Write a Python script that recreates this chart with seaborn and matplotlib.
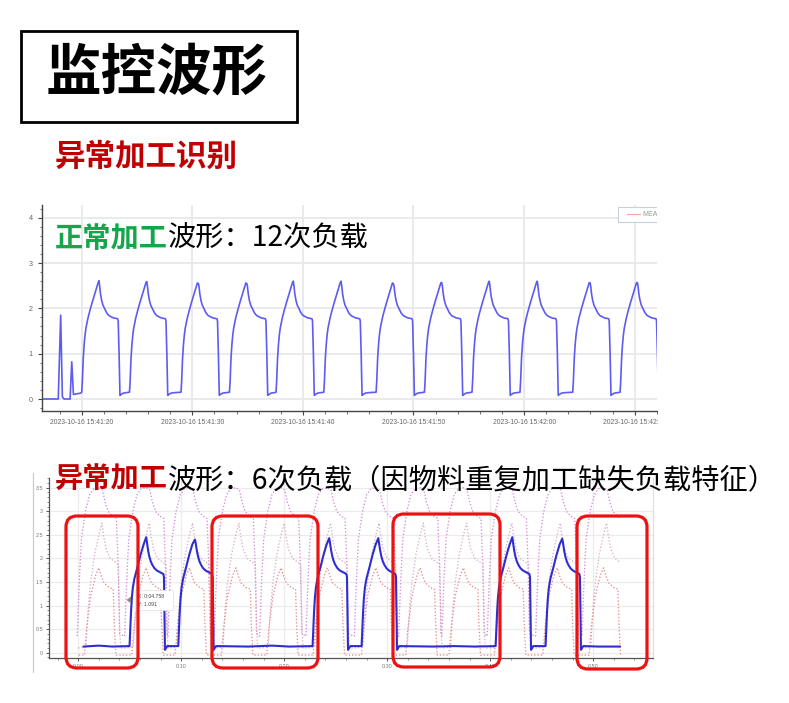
import numpy as np
import pandas as pd
import matplotlib
matplotlib.use("Agg")
import matplotlib.pyplot as plt
import seaborn as sns
from matplotlib.patches import FancyBboxPatch, Rectangle, Polygon
from matplotlib.lines import Line2D
from matplotlib.ticker import MultipleLocator, FixedLocator

# ---------------- texts ----------------
title_text = "监控波形"
subtitle_text = "异常加工识别"
normal_label = ["正常加工", "波形：12次负载"]
abnormal_label = ["异常加工", "波形：6次负载（因物料重复加工缺失负载特征）"]

# ---------------- top chart (normal machining) ----------------
# x = seconds after 2023-10-16 15:41:20
top_tick_pos = [0, 10, 20, 30, 40, 50]
top_tick_labels = ["2023-10-16 15:41:20", "2023-10-16 15:41:30", "2023-10-16 15:41:40",
                   "2023-10-16 15:41:50", "2023-10-16 15:42:00", "2023-10-16 15:42:10"]
top_y_ticks = [0, 1, 2, 3, 4]
top_lead_t = [-3.6, -2.12, -1.9, -1.75, -1.6, -1.05, -0.9, -0.75, -0.35, -0.1]
top_lead_v = [0.0, 0.0, 1.85, 0.05, 0.0, 0.0, 0.82, 0.1, 0.12, 0.13]
top_cycle_dt = [-1.56, -1.5, -1.42, -1.34, -1.26, -1.18, -1.0, -0.81, -0.6, -0.4, -0.21,
                -0.08, 0.0, 0.06, 0.14, 0.24, 0.36, 0.54, 0.7, 0.9, 1.3, 1.69, 1.74,
                1.82, 1.9, 2.0, 2.2, 2.5]
top_cycle_v = [0.15, 0.4, 0.9, 1.2, 1.41, 1.56, 1.78, 1.96, 2.14, 2.3, 2.46,
               2.56, None, 2.5, 2.32, 2.18, 2.07, 1.98, 1.9, 1.84, 1.79, 1.77, 1.72,
               1.0, 0.08, 0.1, 0.13, 0.14]
top_peak_t = [1.56, 5.88, 10.54, 14.92, 19.13, 23.45, 28.18, 32.55, 36.85, 41.19, 45.96, 50.24]
top_peak_v = [2.61, 2.59, 2.55, 2.55, 2.6, 2.6, 2.54, 2.57, 2.6, 2.6, 2.57, 2.57]

# ---------------- bottom chart (abnormal machining) ----------------
bot_tick_pos = [0, 10, 20, 30, 40, 50]
bot_tick_labels = ["0:00", "0:10", "0:20", "0:30", "0:40", "0:50"]
bot_y_ticks = [0, 0.5, 1, 1.5, 2, 2.5, 3, 3.5]
bot_y_labels = ["0", "0.5", "1", "1.5", "2", "2.5", "3", "3.5"]

blue_cycle_dt = [-1.62, -1.55, -1.48, -1.4, -1.3, -1.15, -0.85, -0.55, -0.25, 0.0, 0.08,
                 0.18, 0.3, 0.45, 0.6, 0.8, 1.05, 1.4, 1.66, 1.72, 1.82, 1.92, 2.05]
blue_cycle_v = [0.14, 0.5, 0.85, 1.15, 1.38, 1.57, 1.82, 2.08, 2.3, None, 2.32,
                2.17, 2.04, 1.93, 1.86, 1.79, 1.74, 1.7, 1.67, 1.6, 0.06, 0.1, 0.14]
blue_peak_t = [6.6, 11.33, 24.37, 29.13, 42.14, 46.99]
blue_peak_v = [2.45, 2.40, 2.43, 2.43, 2.45, 2.42]
blue_idle_t = [0.5, 2.0, 3.3, 16.5, 18.8, 20.5, 34.5, 36.5, 38.5, 50.5, 52.6]
blue_idle_v = [0.13, 0.15, 0.13, 0.13, 0.15, 0.13, 0.13, 0.14, 0.13, 0.13, 0.13]

# reference envelopes (dotted): upper / mean / lower
pink_center_t = [2.0, 6.6, 10.8, 15.3, 19.7, 24.2, 28.9, 33.2, 37.4, 41.8, 46.5, 51.0]
upper_dt = [-2.1, -1.9, -1.7, -1.3, -0.9, -0.5, 0.0, 0.35, 0.6, 0.9, 1.3, 1.7, 1.85, 2.02]
upper_v = [0.35, 1.5, 2.4, 3.0, 3.35, 3.48, 3.5, 3.45, 3.2, 3.0, 2.9, 2.85, 2.0, 0.4]
mean_dt = [-2.0, -1.25, -1.05, -0.8, -0.4, 0.0, 0.3, 0.45, 0.7, 1.1, 1.6, 1.9, 2.02, 2.12]
mean_v = [0.1, 0.12, 0.9, 1.5, 2.1, 2.5, 2.75, 2.5, 2.2, 2.0, 1.92, 1.88, 0.5, 0.1]
lower_dt = [-1.95, -1.4, -1.2, -0.8, -0.3, 0.0, 0.2, 0.5, 1.0, 1.4, 1.5, 1.65]
lower_v = [-0.05, -0.05, 0.5, 1.2, 1.65, 1.8, 1.65, 1.48, 1.38, 1.35, 0.6, -0.05]

# red annotation boxes (pixel boxes: left, top, right, bottom)
red_boxes = [(66, 516, 138, 668), (212, 516, 318, 668), (393, 514, 500, 667), (577, 516, 647, 669)]


def build(peaks, peak_vals, dts, vals):
    ts, vs = [], []
    for p, pv in zip(peaks, peak_vals):
        for d, v in zip(dts, vals):
            ts.append(p + d)
            vs.append(pv if v is None else v)
    return ts, vs


# ---------------- figure ----------------
sns.set_theme(style="white")
plt.rcParams['font.family'] = ['Noto Sans CJK SC', 'DejaVu Sans']
plt.rcParams['axes.unicode_minus'] = False

W, H = 789, 703
fig = plt.figure(figsize=(W / 100, H / 100), dpi=100)
fig.patch.set_facecolor("white")
tr = fig.dpi_scale_trans


def P(x, y):
    return (x / 100.0, (H - y) / 100.0)


def fx(x):
    return x / W


def fy(y):
    return 1 - y / H


TICKFONT = "Liberation Sans"

# ---------- top axes ----------
ax1 = fig.add_axes([fx(42), fy(410.7), (657 - 42) / W, (410.7 - 205) / H])
t1, v1 = build(top_peak_t, top_peak_v, top_cycle_dt, top_cycle_v)
df_top = pd.DataFrame({"t": top_lead_t + t1, "v": top_lead_v + v1}).sort_values("t")
sns.lineplot(data=df_top, x="t", y="v", ax=ax1, sort=False, estimator=None,
             color="#5c5cf2", lw=1.2)
ax1.set_xlim(-3.59, 52.02)
ax1.set_ylim(-0.258, 4.28)
ax1.xaxis.set_major_locator(FixedLocator(top_tick_pos))
ax1.set_xticklabels(top_tick_labels)
ax1.xaxis.set_minor_locator(MultipleLocator(2))
ax1.yaxis.set_major_locator(FixedLocator(top_y_ticks))
ax1.set_yticklabels([str(v) for v in top_y_ticks])
ax1.yaxis.set_minor_locator(MultipleLocator(0.2))
ax1.set_xlabel("")
ax1.set_ylabel("")
ax1.grid(True, which="major", color="#e8e8ec", lw=1.3)
ax1.set_axisbelow(True)
for s in ["top", "right"]:
    ax1.spines[s].set_visible(False)
for s in ["left", "bottom"]:
    ax1.spines[s].set_color("#444444")
    ax1.spines[s].set_linewidth(1.0)
ax1.tick_params(axis="both", which="major", direction="out", length=3.2, width=0.8,
                color="#444444", labelcolor="#666666", labelsize=4.9, pad=3.0,
                bottom=True, left=True)
ax1.tick_params(axis="both", which="minor", direction="out", length=1.8, width=0.6,
                color="#555555", bottom=True, left=True)
ax1.tick_params(axis="y", which="major", labelsize=5.2, pad=3.5)
for lab in ax1.get_xticklabels() + ax1.get_yticklabels():
    lab.set_fontfamily(TICKFONT)

# little legend box at top right (cut off by the screenshot edge)
ax1.add_patch(Rectangle(P(618, 222), 50 / 100, 15 / 100, transform=tr,
                        facecolor="white", edgecolor="#c8d0e0", lw=0.8, zorder=5))
ax1.add_line(Line2D([6.27, 6.40], [(H - 214) / 100] * 2, transform=tr,
                    color="#f4a8a8", lw=0.9, zorder=6))
ax1.text(6.42, (H - 214) / 100, "MEA", transform=tr, fontsize=5, color="#999999",
         va="center", ha="left", fontfamily=TICKFONT, zorder=6, clip_on=True)

# the upper screenshot is cut at its right edge
fig.add_artist(Rectangle(P(657.5, 440), (W - 657.5) / 100, (440 - 195) / 100, transform=tr,
                         facecolor="white", edgecolor="none", zorder=20))

# ---------- bottom axes ----------
ax2 = fig.add_axes([fx(49), fy(657.5), (653 - 49) / W, (657.5 - 478) / H])
tu, vu = build(pink_center_t, [0] * len(pink_center_t), upper_dt, upper_v)
tm, vm = build(pink_center_t, [0] * len(pink_center_t), mean_dt, mean_v)
tl, vl = build(pink_center_t, [0] * len(pink_center_t), lower_dt, lower_v)
for ts, vs, col in [(tu, vu, "#d888d8"), (tm, vm, "#d6b0c6"), (tl, vl, "#e88c8c")]:
    d = pd.DataFrame({"t": ts, "v": vs}).sort_values("t")
    d = d[(d.t >= -0.3) & (d.t <= 52.8)]
    sns.lineplot(data=d, x="t", y="v", ax=ax2, sort=False, estimator=None,
                 color=col, lw=0.95, linestyle=(0, (1, 1.5)))
tb, vb = build(blue_peak_t, blue_peak_v, blue_cycle_dt, blue_cycle_v)
df_blue = pd.DataFrame({"t": blue_idle_t + tb, "v": blue_idle_v + vb}).sort_values("t")
sns.lineplot(data=df_blue, x="t", y="v", ax=ax2, sort=False, estimator=None,
             color="#2e2ed0", lw=1.5)
ax2.set_xlim(-2.84, 55.8)
ax2.set_ylim(-0.102, 3.706)
ax2.xaxis.set_major_locator(FixedLocator(bot_tick_pos))
ax2.set_xticklabels(bot_tick_labels)
ax2.xaxis.set_minor_locator(MultipleLocator(2))
ax2.yaxis.set_major_locator(FixedLocator(bot_y_ticks))
ax2.set_yticklabels(bot_y_labels)
ax2.yaxis.set_minor_locator(MultipleLocator(0.1))
ax2.set_xlabel("")
ax2.set_ylabel("")
ax2.grid(True, which="major", color="#ececec", lw=0.9)
ax2.set_axisbelow(True)
ax2.spines["top"].set_visible(False)
ax2.spines["right"].set_color("#dddddd")
ax2.spines["right"].set_linewidth(0.8)
for s in ["left", "bottom"]:
    ax2.spines[s].set_color("#555555")
    ax2.spines[s].set_linewidth(0.9)
ax2.tick_params(axis="both", which="major", direction="out", length=2.4, width=0.7,
                color="#555555", labelcolor="#777777", labelsize=3.9, pad=2.0,
                bottom=True, left=True)
ax2.tick_params(axis="both", which="minor", direction="out", length=1.3, width=0.5,
                color="#666666", bottom=True, left=True)
for lab in ax2.get_xticklabels() + ax2.get_yticklabels():
    lab.set_fontfamily(TICKFONT)

# outer frame line of the lower screenshot
fig.add_artist(Line2D([0.33, 0.33], [(H - 473) / 100, (H - 672) / 100], transform=tr,
                      color="#cccccc", lw=0.9))

# tooltip
fig.add_artist(Rectangle(P(135, 610), 38 / 100, 20 / 100, transform=tr,
                         facecolor="white", edgecolor="#e4e4e4", lw=0.6, zorder=8))
fig.add_artist(Polygon([P(126.5, 600), P(131, 596.5), P(131, 603.5)], closed=True,
                       transform=tr, facecolor="#8a8a8a", edgecolor="none", zorder=9))
fig.text(*P(137.5, 596.3), "X: 0:04.758", transform=tr, fontsize=3.7, color="#444444",
         ha="left", va="center", fontfamily=TICKFONT, zorder=9)
fig.text(*P(137.5, 604), "Y: 1.091", transform=tr, fontsize=3.7, color="#444444",
         ha="left", va="center", fontfamily=TICKFONT, zorder=9)

# red annotation boxes
for (l, t, r, b) in red_boxes:
    fig.add_artist(FancyBboxPatch(P(l, b), (r - l) / 100, (b - t) / 100,
                                  boxstyle="round,pad=0,rounding_size=0.11",
                                  transform=tr, facecolor="none", edgecolor="#ee1111",
                                  lw=2.3, zorder=10))

# ---------- title block ----------
fig.add_artist(Rectangle(P(21, 122), (297 - 21) / 100, (122 - 31) / 100, transform=tr,
                         facecolor="none", edgecolor="black", lw=2.0, zorder=10))
fig.text(*P(157, 74), title_text, transform=tr, fontsize=40, fontweight="bold",
         color="black", ha="center", va="center", zorder=11)
fig.text(*P(55, 156.5), subtitle_text, transform=tr, fontsize=22, fontweight="bold",
         color="#c00000", ha="left", va="center", zorder=11)

# ---------- two-colour captions ----------
renderer = fig.canvas.get_renderer()


def caption(x, y, parts, colors, weights, size):
    cur = x
    for txt, col, wt in zip(parts, colors, weights):
        tt = fig.text(*P(cur, y), txt, transform=tr, fontsize=size, fontweight=wt,
                      color=col, ha="left", va="center", zorder=22)
        bb = tt.get_window_extent(renderer=renderer)
        cur += bb.width * 100.0 / fig.dpi


caption(55, 239, normal_label, ["#13a64b", "black"], ["bold", "normal"], 20.3)
caption(55, 480, abnormal_label, ["#c00000", "black"], ["bold", "normal"], 20.3)

fig.savefig("out.png", dpi=100, facecolor="white")
